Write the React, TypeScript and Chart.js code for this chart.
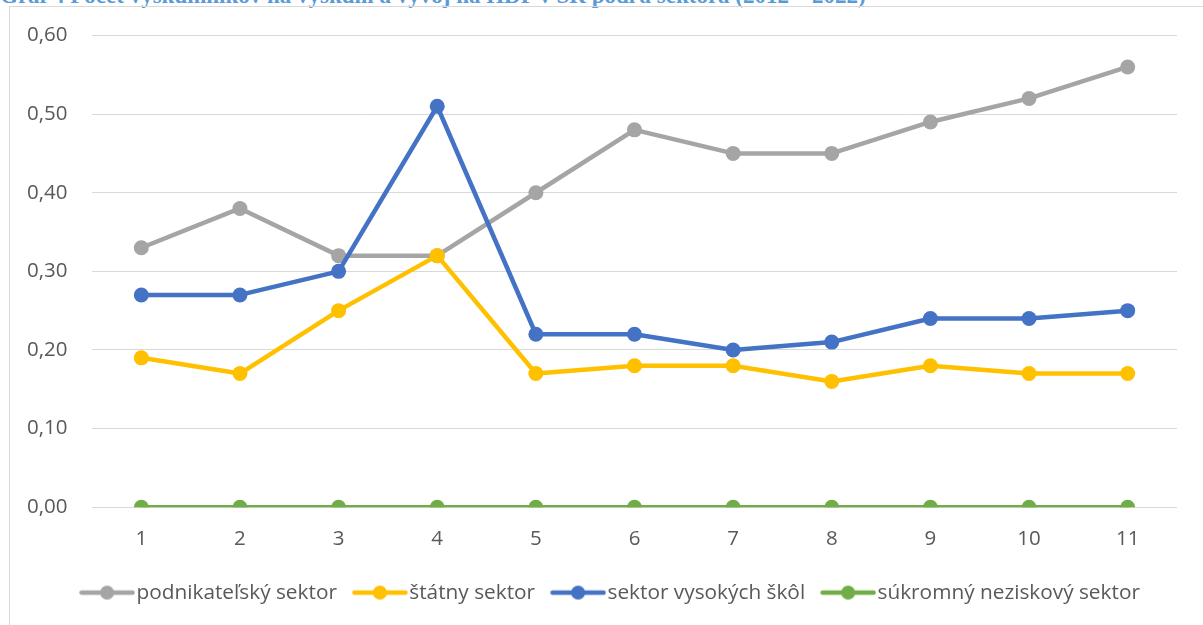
import React, { useEffect, useRef } from 'react';
import { Chart, registerables } from 'chart.js';

Chart.register(...registerables);

const categories = ['1', '2', '3', '4', '5', '6', '7', '8', '9', '10', '11'];
const podnikatelsky = [0.33, 0.38, 0.32, 0.32, 0.4, 0.48, 0.45, 0.45, 0.49, 0.52, 0.56];
const statny = [0.19, 0.17, 0.25, 0.32, 0.17, 0.18, 0.18, 0.16, 0.18, 0.17, 0.17];
const vysokeSkoly = [0.27, 0.27, 0.3, 0.51, 0.22, 0.22, 0.2, 0.21, 0.24, 0.24, 0.25];
const sukromny = [0, 0, 0, 0, 0, 0, 0, 0, 0, 0, 0];

const seriesNames = ['podnikateľský sektor', 'štátny sektor', 'sektor vysokých škôl', 'súkromný neziskový sektor'];
const seriesColors = ['#A5A5A5', '#FFC000', '#4472C4', '#70AD47'];
const titleText = 'Graf 4 Počet výskumníkov na výskum a vývoj na HDP v SR podľa sektora (2012 – 2022)';

function makeMarker(color: string): HTMLCanvasElement {
  const c = document.createElement('canvas');
  c.width = 56;
  c.height = 16;
  const ctx = c.getContext('2d')!;
  ctx.strokeStyle = color;
  ctx.lineWidth = 4.5;
  ctx.lineCap = 'round';
  ctx.beginPath();
  ctx.moveTo(2.5, 8);
  ctx.lineTo(53.5, 8);
  ctx.stroke();
  ctx.fillStyle = color;
  ctx.beginPath();
  ctx.arc(28, 8, 7, 0, Math.PI * 2);
  ctx.fill();
  return c;
}

export default function App() {
  const ref = useRef<HTMLCanvasElement>(null);

  useEffect(() => {
    if (!ref.current) return;
    const markers = seriesColors.map(makeMarker);
    const values = [podnikatelsky, statny, vysokeSkoly, sukromny];
    const font = { family: '"Open Sans", sans-serif', size: 20.5 };
    const legendFont = { family: '"Open Sans", sans-serif', size: 20.8 };
    const chart = new Chart(ref.current, {
      type: 'line',
      data: {
        labels: categories,
        datasets: values.map((v, i) => ({
          label: seriesNames[i],
          data: v,
          borderColor: seriesColors[i],
          backgroundColor: seriesColors[i],
          borderWidth: 4.5,
          borderJoinStyle: 'round' as const,
          borderCapStyle: 'round' as const,
          pointRadius: 7.5,
          pointBorderWidth: 0,
          pointStyle: 'circle' as const,
          tension: 0,
          order: 4 - i,
        })),
      },
      options: {
        animation: false,
        responsive: false,
        maintainAspectRatio: false,
        layout: { padding: { left: 51, top: 35.5, right: 26, bottom: 12 } },
        scales: {
          x: {
            offset: true,
            grid: { display: false, drawTicks: false },
            border: { display: false },
            ticks: { color: '#595959', font, padding: 20, maxRotation: 0 },
            afterFit: (s: any) => {
              s.height = 51;
            },
          },
          y: {
            min: 0,
            max: 0.6,
            grid: { color: '#D9D9D9', lineWidth: 1, drawTicks: false },
            border: { display: false },
            ticks: {
              stepSize: 0.1,
              color: '#595959',
              font,
              mirror: true,
              padding: -65,
              callback: (v: any) => Number(v).toFixed(2).replace('.', ','),
            },
            afterFit: (s: any) => {
              s.width = 41;
            },
          },
        },
        plugins: {
          title: { display: false },
          tooltip: { enabled: false },
          legend: {
            display: true,
            position: 'bottom',
            labels: {
              color: '#595959',
              font: legendFont,
              padding: 24,
              usePointStyle: true,
              pointStyleWidth: 38,
              sort: (a: any, b: any) => a.datasetIndex - b.datasetIndex,
              generateLabels: (ch: any) => {
                const items = Chart.defaults.plugins.legend.labels.generateLabels(ch);
                return items.map((it: any) => ({ ...it, pointStyle: markers[it.datasetIndex] }));
              },
            },
          },
        },
      },
    });
    return () => chart.destroy();
  }, []);

  return (
    <div style={{ position: 'fixed', left: 0, top: 0, width: 1203, height: 625, overflow: 'hidden', background: '#fff' }}>
      <div
        style={{
          position: 'absolute',
          left: 0,
          top: -17,
          whiteSpace: 'nowrap',
          fontFamily: '"Liberation Serif", serif',
          fontWeight: 'bold',
          fontSize: 23,
          lineHeight: '26px',
          color: '#5B9BD5',
        }}
      >
        {titleText}
      </div>
      <div
        style={{
          position: 'absolute',
          left: 9,
          top: 6,
          width: 1250,
          height: 700,
          border: '1px solid #D9D9D9',
          boxSizing: 'border-box',
        }}
      />
      <canvas ref={ref} width={1203} height={625} style={{ position: 'absolute', left: 0, top: 0, width: 1203, height: 625 }} />
    </div>
  );
}
